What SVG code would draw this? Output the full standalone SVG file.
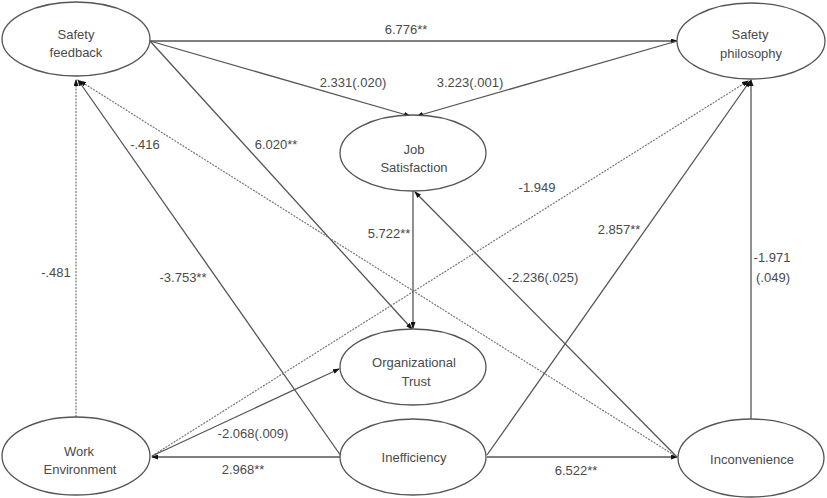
<svg xmlns="http://www.w3.org/2000/svg" width="827" height="498" viewBox="0 0 827 498">
<style>
.node ellipse{fill:#fff;stroke:#555;stroke-width:1.3}
text{font-family:"Liberation Sans",Arial,sans-serif;font-size:13px;fill:#4a4a4a;text-anchor:middle}
.c{stroke:#555;stroke-width:1.3;fill:none;marker-end:url(#ah)}
.d{stroke:#777;stroke-width:1.2;fill:none;stroke-dasharray:2 1.2;marker-end:url(#ah)}
</style>
<defs>
<marker id="ah" markerUnits="userSpaceOnUse" markerWidth="7" markerHeight="5" refX="6" refY="2.5" orient="auto">
<path d="M0,0 L7,2.5 L0,5 z" fill="#111"/>
</marker>
</defs>
<rect width="827" height="498" fill="#fff"/>
<g id="connectors">
<path class="c" d="M150,41 L677,41"/>
<path class="c" d="M150,41 L410,116"/>
<path class="c" d="M677,41 L417,116"/>
<path class="c" d="M150,41 L412,329"/>
<path class="c" d="M341,456 L78,80"/>
<path class="d" d="M76,417 L76,80"/>
<path class="d" d="M677,457 L80,81"/>
<path class="d" d="M152,456 L748,81"/>
<path class="c" d="M152,456 L339,369"/>
<path class="c" d="M340,457 L152,457"/>
<path class="c" d="M487,457 L677,457"/>
<path class="c" d="M487,455 L750,81"/>
<path class="c" d="M751,419 L751,80"/>
<path class="c" d="M677,457 L415,192"/>
<path class="c" d="M413,191 L413,328"/>
<text x="406" y="34">6.776**</text>
<text x="353" y="87">2.331(.020)</text>
<text x="470" y="87">3.223(.001)</text>
<text x="276" y="149">6.020**</text>
<text x="145" y="149">-.416</text>
<text x="56" y="277">-.481</text>
<text x="183" y="282">-3.753**</text>
<text x="389" y="238">5.722**</text>
<text x="537" y="192">-1.949</text>
<text x="619" y="234">2.857**</text>
<text x="543" y="282">-2.236(.025)</text>
<text x="772" y="262">-1.971</text>
<text x="773" y="282">(.049)</text>
<text x="253" y="438">-2.068(.009)</text>
<text x="243" y="474">2.968**</text>
<text x="576" y="475">6.522**</text>
</g>
<g id="safety-feedback" class="node">
<ellipse cx="76" cy="39" rx="74" ry="37"/>
<text x="76" y="39">Safety</text>
<text x="76" y="57">feedback</text>
</g>
<g id="safety-philosophy" class="node">
<ellipse cx="751" cy="41" rx="74" ry="38"/>
<text x="750" y="39">Safety</text>
<text x="751" y="58">philosophy</text>
</g>
<g id="job-satisfaction" class="node">
<ellipse cx="413" cy="153" rx="73" ry="38"/>
<text x="414" y="154">Job</text>
<text x="414" y="172">Satisfaction</text>
</g>
<g id="organizational-trust" class="node">
<ellipse cx="413" cy="367" rx="73" ry="38"/>
<text x="414" y="367">Organizational</text>
<text x="416" y="386">Trust</text>
</g>
<g id="inefficiency" class="node">
<ellipse cx="413" cy="457" rx="73" ry="38"/>
<text x="414" y="462">Inefficiency</text>
</g>
<g id="work-environment" class="node">
<ellipse cx="76" cy="456" rx="74" ry="39"/>
<text x="79" y="456">Work</text>
<text x="80" y="474">Environment</text>
</g>
<g id="inconvenience" class="node">
<ellipse cx="751" cy="458" rx="73" ry="39"/>
<text x="752" y="464">Inconvenience</text>
</g>
</svg>
